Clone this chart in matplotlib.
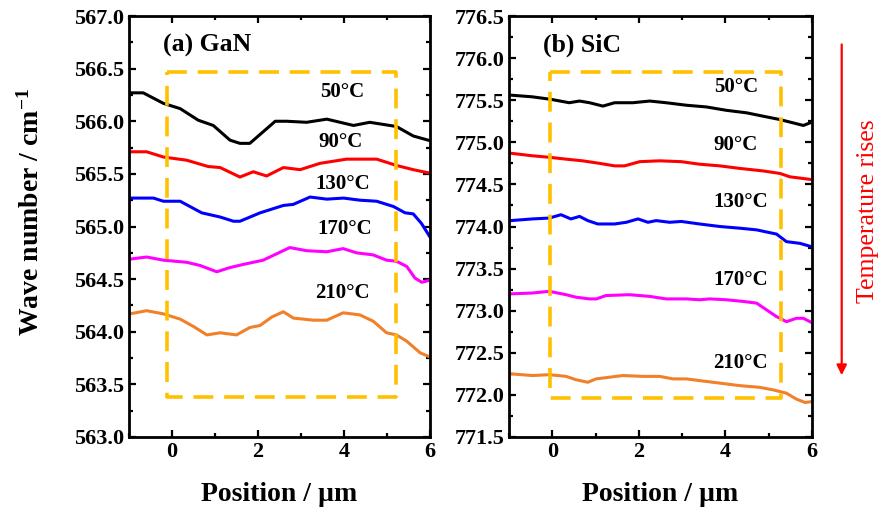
import matplotlib
matplotlib.use("Agg")
import matplotlib.pyplot as plt
from matplotlib.ticker import MultipleLocator

plt.rcParams['font.family'] = ['Liberation Serif', 'DejaVu Serif']
plt.rcParams['font.weight'] = 'bold'
plt.rcParams['mathtext.fontset'] = 'custom'
plt.rcParams['mathtext.rm'] = 'Liberation Serif:bold'
plt.rcParams['mathtext.default'] = 'rm'

temps = ["50°C", "90°C", "130°C", "170°C", "210°C"]
colors = ["black", "#ff0000", "#0000ff", "#ff00ff", "#f0802a"]

# (a) GaN
gan_50_x = [-0.98, -0.67, -0.2, 0.19, 0.61, 0.96, 1.35, 1.58, 1.81, 2.12, 2.40, 2.67, 3.13, 3.60, 4.22, 4.60, 5.22, 5.61, 5.96]
gan_50_y = [566.27, 566.27, 566.17, 566.12, 566.01, 565.96, 565.82, 565.79, 565.79, 565.90, 566.00, 566.00, 565.99, 566.02, 565.96, 565.99, 565.95, 565.86, 565.82]
gan_90_x = [-0.98, -0.59, -0.2, 0.34, 0.84, 1.12, 1.58, 1.89, 2.20, 2.59, 2.98, 3.44, 4.06, 4.76, 5.22, 5.61, 5.96]
gan_90_y = [565.71, 565.71, 565.66, 565.63, 565.57, 565.56, 565.47, 565.52, 565.48, 565.56, 565.54, 565.60, 565.64, 565.64, 565.58, 565.54, 565.51]
gan_130_x = [-0.98, -0.43, -0.2, 0.19, 0.69, 1.12, 1.43, 1.58, 2.05, 2.59, 2.82, 3.21, 3.60, 3.99, 4.37, 4.76, 5.15, 5.42, 5.61, 5.80, 6.0]
gan_130_y = [565.27, 565.27, 565.24, 565.24, 565.13, 565.09, 565.05, 565.05, 565.13, 565.20, 565.21, 565.28, 565.26, 565.27, 565.25, 565.24, 565.19, 565.13, 565.12, 565.03, 564.90]
gan_170_x = [-0.98, -0.59, -0.2, 0.34, 0.65, 1.04, 1.35, 1.66, 2.12, 2.43, 2.74, 3.13, 3.60, 3.98, 4.29, 4.68, 4.99, 5.22, 5.46, 5.65, 5.81, 6.0]
gan_170_y = [564.69, 564.71, 564.68, 564.66, 564.63, 564.57, 564.61, 564.64, 564.68, 564.74, 564.80, 564.77, 564.76, 564.79, 564.75, 564.73, 564.68, 564.67, 564.62, 564.51, 564.47, 564.49]
gan_210_x = [-0.98, -0.59, -0.2, 0.19, 0.50, 0.81, 1.12, 1.50, 1.81, 2.05, 2.32, 2.59, 2.82, 3.29, 3.60, 3.98, 4.37, 4.68, 4.99, 5.22, 5.46, 5.77, 6.0]
gan_210_y = [564.17, 564.20, 564.17, 564.12, 564.05, 563.97, 563.99, 563.97, 564.04, 564.06, 564.14, 564.19, 564.13, 564.11, 564.11, 564.18, 564.16, 564.10, 563.99, 563.97, 563.91, 563.80, 563.76]

# (b) SiC
sic_50_x = [-0.96, -0.46, -0.03, 0.39, 0.63, 0.86, 1.17, 1.44, 1.86, 2.25, 2.63, 3.10, 3.56, 4.02, 4.49, 4.87, 5.26, 5.57, 5.80, 5.95]
sic_50_y = [775.56, 775.54, 775.51, 775.47, 775.49, 775.47, 775.43, 775.47, 775.47, 775.49, 775.47, 775.44, 775.42, 775.38, 775.35, 775.31, 775.27, 775.23, 775.20, 775.23]
sic_90_x = [-0.96, -0.46, -0.03, 0.32, 0.70, 1.09, 1.44, 1.67, 2.02, 2.48, 2.98, 3.40, 3.87, 4.33, 4.87, 5.26, 5.49, 5.95]
sic_90_y = [774.87, 774.84, 774.82, 774.80, 774.78, 774.75, 774.72, 774.72, 774.77, 774.78, 774.77, 774.74, 774.72, 774.69, 774.66, 774.63, 774.59, 774.56]
sic_130_x = [-0.96, -0.46, -0.07, 0.20, 0.43, 0.63, 0.82, 1.05, 1.44, 1.71, 1.98, 2.21, 2.40, 2.71, 2.98, 3.40, 3.87, 4.33, 4.72, 5.18, 5.41, 5.72, 5.99]
sic_130_y = [774.07, 774.09, 774.10, 774.14, 774.09, 774.12, 774.07, 774.03, 774.03, 774.05, 774.09, 774.05, 774.07, 774.05, 774.06, 774.03, 774.00, 773.98, 773.96, 773.91, 773.82, 773.80, 773.76]
sic_170_x = [-0.96, -0.46, -0.07, 0.32, 0.55, 0.86, 1.02, 1.24, 1.78, 2.25, 2.63, 3.10, 3.40, 3.64, 4.02, 4.41, 4.72, 4.95, 5.18, 5.41, 5.64, 5.80, 5.99]
sic_170_y = [773.20, 773.21, 773.23, 773.19, 773.16, 773.14, 773.14, 773.18, 773.19, 773.17, 773.14, 773.14, 773.13, 773.14, 773.13, 773.11, 773.09, 773.01, 772.93, 772.87, 772.91, 772.91, 772.86]
sic_210_x = [-0.96, -0.46, -0.07, 0.32, 0.55, 0.82, 1.01, 1.32, 1.63, 2.09, 2.48, 2.79, 3.10, 3.40, 3.87, 4.33, 4.79, 5.10, 5.41, 5.64, 5.84, 5.99]
sic_210_y = [772.25, 772.23, 772.24, 772.22, 772.18, 772.15, 772.19, 772.21, 772.23, 772.22, 772.22, 772.19, 772.19, 772.17, 772.14, 772.11, 772.09, 772.06, 772.02, 771.95, 771.91, 771.92]

gan_x = [gan_50_x, gan_90_x, gan_130_x, gan_170_x, gan_210_x]
gan_y = [gan_50_y, gan_90_y, gan_130_y, gan_170_y, gan_210_y]
sic_x = [sic_50_x, sic_90_x, sic_130_x, sic_170_x, sic_210_x]
sic_y = [sic_50_y, sic_90_y, sic_130_y, sic_170_y, sic_210_y]

gan_label_pos = [(3.95, 566.28), (3.91, 565.80), (3.98, 565.40), (4.02, 564.98), (3.97, 564.37)]
sic_label_pos = [(4.24, 775.66), (4.24, 774.97), (4.35, 774.29), (4.35, 773.36), (4.35, 772.38)]

gan_box = (-0.12, 5.22, 563.38, 566.47)
sic_box = (-0.05, 5.28, 771.96, 775.83)

W, H = 882, 516
fig = plt.figure(figsize=(W / 100, H / 100), dpi=100)
ax1 = fig.add_axes([129 / W, (H - 437) / H, 301 / W, 421 / H])
ax2 = fig.add_axes([509 / W, (H - 437) / H, 303 / W, 421 / H])

box_color = "#ffc000"

def draw(ax, xs, ys, lpos, box, ylim, title):
    for x, y, c in zip(xs, ys, colors):
        ax.plot(x, y, color=c, lw=2.2, solid_joinstyle='round')
    for (lx, ly), t in zip(lpos, temps):
        ax.text(lx, ly, t, ha='center', va='center', fontsize=15, fontweight='bold')
    x0, x1, y0, y1 = box
    ax.plot([x0, x1, x1, x0, x0], [y1, y1, y0, y0, y1], color=box_color,
            lw=2.6, ls=(0, (5.5, 3)))
    ax.set_xlim(-1, 6)
    ax.set_ylim(*ylim)
    ax.xaxis.set_major_locator(MultipleLocator(2))
    ax.xaxis.set_minor_locator(MultipleLocator(1))
    ax.yaxis.set_major_locator(MultipleLocator(0.5))
    ax.yaxis.set_minor_locator(MultipleLocator(0.25))
    ax.yaxis.set_major_formatter(matplotlib.ticker.FormatStrFormatter('%.1f'))
    ax.tick_params(which='both', direction='in', top=True, right=True, width=1.6,
                   labelsize=16)
    ax.tick_params(which='major', length=5)
    ax.tick_params(which='minor', length=3)
    for s in ax.spines.values():
        s.set_linewidth(2.0)
    for lab in ax.get_xticklabels() + ax.get_yticklabels():
        lab.set_fontweight('bold')
    ax.text(0.113, 0.93, title, transform=ax.transAxes, ha='left', va='center',
            fontsize=18.5, fontweight='bold')
    ax.set_xlabel("Position / µm", fontsize=20, fontweight='bold')
    ax.xaxis.set_label_coords(0.5, -0.108)

draw(ax1, gan_x, gan_y, gan_label_pos, gan_box, (563.0, 567.0), "(a) GaN")
draw(ax2, sic_x, sic_y, sic_label_pos, sic_box, (771.5, 776.5), "(b) SiC")
ax1.set_ylabel("Wave number / cm$^{-1}$", fontsize=20, fontweight='bold')
ax1.yaxis.set_label_coords(-0.28, 0.535)

# Arrow and text on the right
fig.patches.append(matplotlib.patches.FancyArrowPatch(
    (841.7 / W, 1 - 41.7 / H), (841.7 / W, 1 - 378 / H), transform=fig.transFigure,
    arrowstyle='-|>,head_length=6,head_width=3', color='#ff0000', lw=1.6))
fig.text(868 / W, 1 - 211 / H, "Temperature rises", rotation=90, color='#ff0000',
         ha='center', va='center', fontsize=18.5, fontweight='normal')

fig.savefig("out.png", dpi=100)
